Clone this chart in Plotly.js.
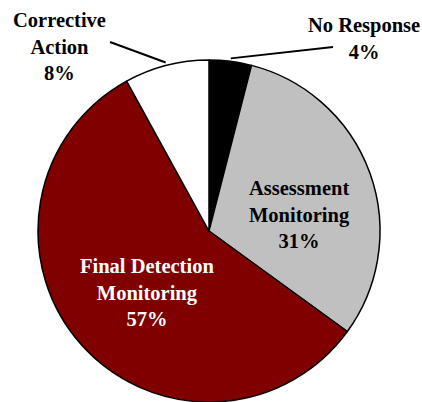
<!DOCTYPE html>
<html>
<head>
<meta charset="utf-8">
<script src="https://cdn.plot.ly/plotly-3.0.1.min.js"></script>
<style>html,body{margin:0;padding:0;background:#fff}#chart{width:422px;height:402px}</style>
</head>
<body>
<div id="chart"></div>
<script>
// Data
const labels = ["No Response", "Assessment Monitoring", "Final Detection Monitoring", "Corrective Action"];
const labelLines = [["No Response"], ["Assessment", "Monitoring"], ["Final Detection", "Monitoring"], ["Corrective", "Action"]];
const values = [4, 31, 57, 8];
const colors = ["#000000", "#c0c0c0", "#800000", "#ffffff"];
const textColors = ["#000000", "#000000", "#ffffff", "#000000"];

// Layout geometry (pixels)
const W = 422, H = 402;
const cx = 209, R = 171, cy = H - R;
const labelPos = [
  {x: 364, y: 38, out: true, lineEnd: [333, 47]},
  {x: 299, y: 214, out: false},
  {x: 147, y: 292, out: false},
  {x: 59, y: 47, out: true, lineEnd: [110, 42]}
];

const total = values.reduce((a, b) => a + b, 0);
const annotations = [];
const shapes = [];
let cum = 0;
values.forEach((v, i) => {
  const mid = (cum + v / 2) / total * 2 * Math.PI;
  cum += v;
  const p = labelPos[i];
  annotations.push({
    xref: 'paper', yref: 'paper', x: p.x / W, y: 1 - p.y / H,
    xanchor: 'center', yanchor: 'middle', showarrow: false,
    text: labelLines[i].map(s => '<b>' + s + '</b>').join('<br>') + '<br><b>' + v + '%</b>',
    font: {family: 'Liberation Serif', size: 20.5, color: textColors[i]}
  });
  if (p.out) {
    const px = cx + (R + 3) * Math.sin(mid);
    const py = cy - (R + 3) * Math.cos(mid);
    shapes.push({type: 'line', xref: 'paper', yref: 'paper',
      x0: px / W, y0: 1 - py / H, x1: p.lineEnd[0] / W, y1: 1 - p.lineEnd[1] / H,
      line: {color: '#000', width: 2}});
  }
});

const trace = {
  type: 'pie', labels: labels, values: values, sort: false, direction: 'clockwise', rotation: 0,
  marker: {colors: colors, line: {color: '#000', width: 1.5}},
  textinfo: 'none', hoverinfo: 'label+percent',
  domain: {x: [(cx - 174) / W, (cx + 174) / W], y: [0, 2 * R / H]}
};

Plotly.newPlot('chart', [trace], {
  width: W, height: H, margin: {l: 0, r: 0, t: 0, b: 0},
  paper_bgcolor: '#fff', showlegend: false,
  font: {family: 'Liberation Serif'},
  annotations: annotations, shapes: shapes
}, {displayModeBar: false, staticPlot: true});
</script>
</body>
</html>
